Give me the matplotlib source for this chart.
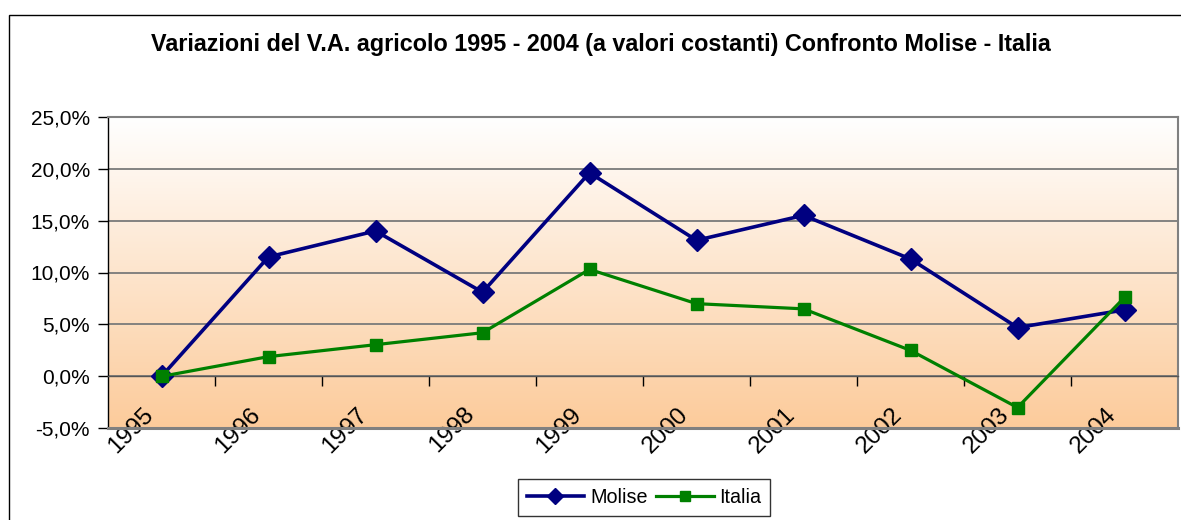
import matplotlib
matplotlib.use("Agg")
import matplotlib.pyplot as plt
import numpy as np
from matplotlib.patches import Rectangle
from matplotlib.ticker import FixedLocator, FuncFormatter

plt.rcParams['font.family'] = ['Liberation Sans', 'DejaVu Sans']

years = ['1995', '1996', '1997', '1998', '1999', '2000', '2001', '2002', '2003', '2004']
molise = [0.0, 11.5, 14.0, 8.1, 19.6, 13.1, 15.5, 11.3, 4.7, 6.4]
italia = [0.0, 1.9, 3.05, 4.2, 10.3, 7.0, 6.5, 2.5, -3.0, 7.6]
yticks = [-5, 0, 5, 10, 15, 20, 25]
title = "Variazioni del V.A. agricolo 1995 - 2004 (a valori costanti) Confronto Molise - Italia"

W, H = 1181, 520
fig = plt.figure(figsize=(W / 100, H / 100), dpi=100)

# outer chart frame (cropped at right / bottom)
fig.patches.append(Rectangle((8.5 / W, -0.1), 1.2, 1 - 14.6 / H + 0.1, transform=fig.transFigure,
                             fill=False, edgecolor='black', linewidth=1.0))

left, right = 108 / W, 1178 / W
top, bottom = 1 - 116.7 / H, 1 - 428.3 / H
ax = fig.add_axes([left, bottom, right - left, top - bottom])

n = len(years)
x = np.arange(n)

# gradient background: white at top, peach at bottom
grad = np.linspace(0, 1, 256).reshape(-1, 1)
c_top = np.array([1.0, 1.0, 1.0])
c_bot = np.array([252, 203, 155]) / 255.0
img = c_top[None, None, :] * (1 - grad[:, :, None]) + c_bot[None, None, :] * grad[:, :, None]
ax.imshow(img, extent=[-0.5, n - 0.5, -5, 25], aspect='auto', zorder=0, origin='upper')
ax.set_xlim(-0.5, n - 0.5)
ax.set_ylim(-5, 25)

for yv in yticks:
    ax.axhline(yv, color='#7a7a7a', lw=1.3, zorder=1)

ax.plot(x, molise, color='#000080', lw=2.6, marker='D', markersize=11, zorder=3, label='Molise',
        solid_joinstyle='miter')
ax.plot(x, italia, color='#008000', lw=2.3, marker='s', markersize=9.3, zorder=4, label='Italia')

# axes styling
for s in ['top', 'right']:
    ax.spines[s].set_color('#808080')
    ax.spines[s].set_linewidth(1.5)
ax.spines['left'].set_color('black')
ax.spines['left'].set_linewidth(1.0)
ax.spines['bottom'].set_position(('data', 0))
ax.spines['bottom'].set_color('#555555')
ax.spines['bottom'].set_linewidth(1.0)
ax.axhline(-5, color='#808080', lw=2.2, zorder=5, clip_on=False)

ax.yaxis.set_major_locator(FixedLocator(yticks))
ax.yaxis.set_major_formatter(FuncFormatter(lambda v, p: ('%.1f%%' % v).replace('.', ',')))
ax.tick_params(axis='y', direction='out', length=7, width=1, color='black', labelsize=15, pad=6)

ax.set_xticks(np.arange(0.5, n - 0.5, 1.0))
ax.set_xticklabels([])
ax.tick_params(axis='x', direction='out', length=7, width=1, color='black')

# category labels, rotated 45 deg, anchored at their upper-right end
for i, lab in enumerate(years):
    ax.annotate(lab, xy=(x[i], 0), xycoords='data', xytext=(-19, -27), textcoords='offset pixels',
                rotation=45, rotation_mode='anchor', ha='right', va='top', fontsize=17.5,
                annotation_clip=False)

fig.text(601 / W, 1 - 45 / H, title, ha='center', va='center', fontsize=16.8, fontweight='bold')

leg = fig.legend(loc='upper left', bbox_to_anchor=(518 / W, 1 - 479 / H), ncol=2, fontsize=14.2,
                 frameon=True, fancybox=False, edgecolor='black', handlelength=2.9, handletextpad=0.3,
                 columnspacing=0.45, markerscale=0.75, borderpad=0.45, borderaxespad=0)
leg.get_frame().set_linewidth(1.0)

fig.savefig('out.png', dpi=100)
